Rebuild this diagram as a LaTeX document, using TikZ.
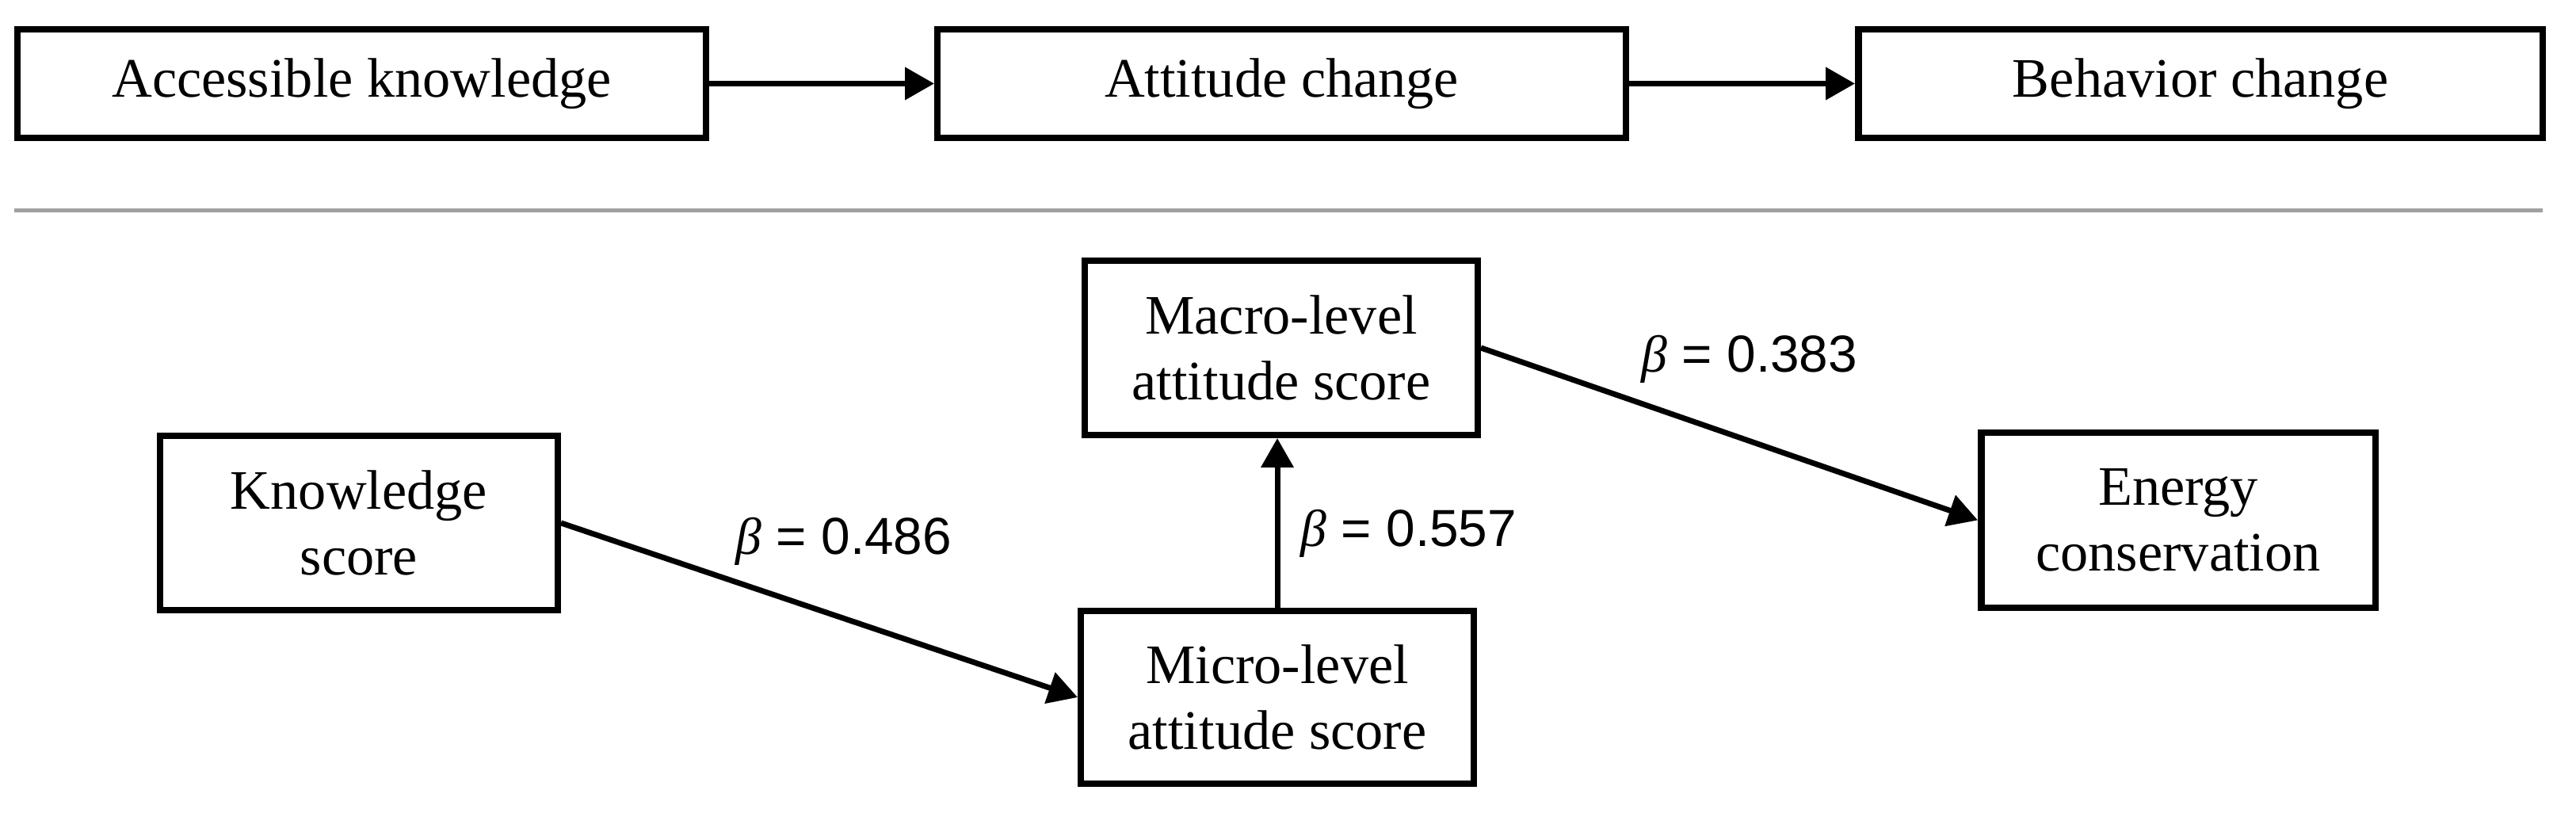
\documentclass[tikz,border=0pt]{standalone}
\usepackage{fontspec}
\setmainfont{Liberation Serif}
\newfontfamily\lblfont{Liberation Sans}
\newfontfamily\betafont{Liberation Serif}
\newcommand{\betasym}{{\betafont\itshape β}}
\usetikzlibrary{arrows.meta}
\definecolor{sepgray}{RGB}{160,160,160}
\begin{document}
\begin{tikzpicture}[x=1cm,y=1cm,
  box/.style={draw=black, line width=2.4pt, rectangle, align=center, inner sep=0pt,
    font=\fontsize{20}{23.6}\selectfont},
  conn/.style={line width=2pt, -{Triangle[length=0.37cm,width=0.4cm]}},
  lbl/.style={anchor=base, inner sep=0pt, font=\lblfont\fontsize{18.7}{22}\selectfont}
]
\useasboundingbox (0,0) rectangle (32.51,-10.26);

% top row
\node[box, minimum width=8.685cm, minimum height=1.365cm] (b1) at (4.565,-1.055) {Accessible knowledge};
\node[box, minimum width=8.685cm, minimum height=1.365cm] (b2) at (16.175,-1.055) {Attitude change};
\node[box, minimum width=8.635cm, minimum height=1.365cm] (b3) at (27.77,-1.055) {Behavior change};
\draw[conn] (b1.east) -- (b2.west);
\draw[conn] (b2.east) -- (b3.west);

% separator
\coordinate (sepL) at (0.18,-2.655);
\coordinate (sepR) at (32.09,-2.655);
\draw[sepgray, line width=1.4pt] (sepL) -- (sepR);

% bottom model
\node[box, minimum width=5.015cm, minimum height=2.195cm] (know) at (4.53,-6.60) {Knowledge\\score};
\node[box, minimum width=4.955cm, minimum height=2.195cm] (macro) at (16.17,-4.39) {Macro-level\\attitude score};
\node[box, minimum width=4.955cm, minimum height=2.175cm] (micro) at (16.12,-8.80) {Micro-level\\attitude score};
\node[box, minimum width=4.975cm, minimum height=2.205cm] (energy) at (27.49,-6.565) {Energy\\conservation};

\draw[conn] (know.east) -- (micro.west);
\draw[conn] (micro.north) -- (micro.north |- macro.south);
\draw[conn] (macro.east) -- (energy.west);

\node[lbl] (l1) at (10.65,-7.00) {\betasym{} = 0.486};
\node[lbl] (l2) at (17.78,-6.90) {\betasym{} = 0.557};
\node[lbl] (l3) at (22.08,-4.70) {\betasym{} = 0.383};
\end{tikzpicture}
\end{document}
